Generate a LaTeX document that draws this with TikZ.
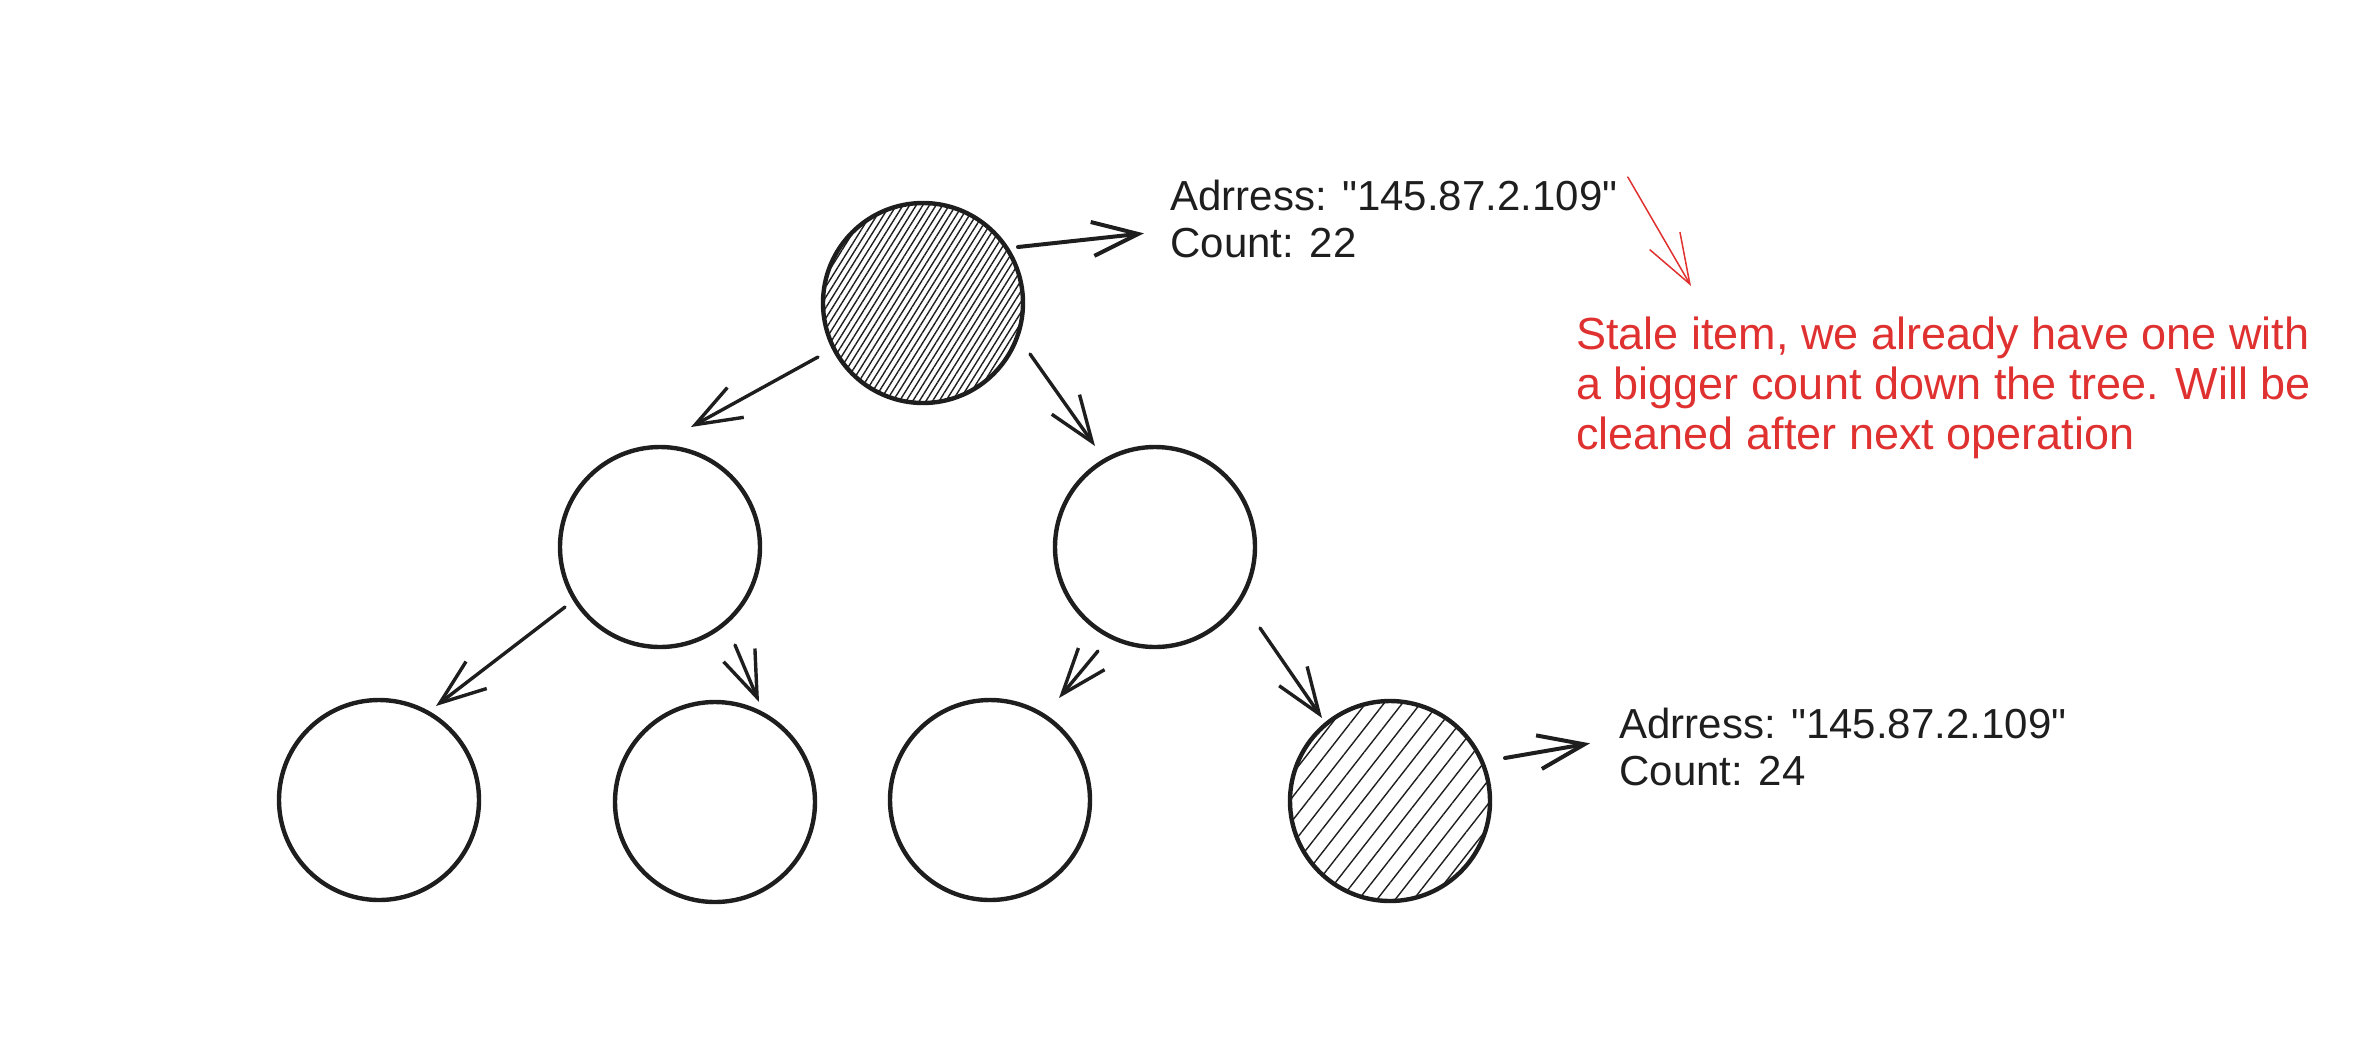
\documentclass[tikz,border=0pt]{standalone}
\usepackage{fontspec}
\setmainfont{Liberation Sans}
\usetikzlibrary{arrows.meta,patterns.meta}
\definecolor{ink}{HTML}{1E1E1E}
\definecolor{alert}{HTML}{E03131}
\newcommand{\ip}{\textquotedbl 145.87.2.109\textquotedbl}

\begin{document}
\begin{tikzpicture}[x=0.5bp,y=-0.5bp,line cap=round,line join=round,
  treenode/.style={circle,draw=ink,line width=2.2bp,minimum size=100bp,inner sep=0pt},
  stale/.style 2 args={pattern={Lines[angle=#1,distance=#2,line width=0.7bp]},pattern color=ink},
  link/.style={draw=ink,line width=1.7bp,-{Straight Barb[length=23bp,width=17bp]}},
  addr/.style={align=left,anchor=north west,inner sep=0pt,text=ink,
    font=\fontsize{21bp}{23.5bp}\selectfont},
  remark/.style={align=left,anchor=north west,inner sep=0pt,text=alert,
    font=\fontsize{22.5bp}{25bp}\selectfont}]
\useasboundingbox (0,0) rectangle (2362,1048);
% ---- heap nodes, root at top ----
\node[treenode,stale={58}{2.8bp}] (root) at (923,303) {};
\node[treenode] (lft) at (660,547) {};
\node[treenode] (rgt) at (1155,547) {};
\node[treenode] (ll) at (379,800) {};
\node[treenode] (lr) at (715,802) {};
\node[treenode] (rl) at (990,800) {};
\node[treenode,stale={52}{7.2bp}] (rr) at (1390,801) {};
% ---- child links (offsets from the node centres) ----
\draw[link] ([shift={(-105,54)}]root.center) -- ([shift={(31,-120)}]lft.center);
\draw[link] ([shift={(107,51)}]root.center) -- ([shift={(-60,-101)}]rgt.center);
\draw[link] ([shift={(-95,60)}]lft.center) -- ([shift={(57,-94)}]ll.center);
\draw[link] ([shift={(75,98)}]lft.center) -- ([shift={(44,-100)}]lr.center);
\draw[link] ([shift={(-57,104)}]rgt.center) -- ([shift={(69,-102)}]rl.center);
\draw[link] ([shift={(105,81)}]rgt.center) -- ([shift={(-68,-83)}]rr.center);
% ---- entries of the two hatched nodes ----
\node[addr] (addrA) at (1170,180) {Adrress: \ip\\Count: 22};
\node[addr] (addrB) at (1619,708) {Adrress: \ip\\Count: 24};
\draw[link,line width=2bp] ([shift={(95,-56)}]root.center) -- ([xshift=-13bp,yshift=-7bp]addrA.west);
\draw[link,line width=2bp] ([shift={(115,-43)}]rr.center) -- ([xshift=-14.5bp,yshift=2bp]addrB.west);
% ---- red remark ----
\node[remark] (note) at (1576,316)
  {Stale item, we already have one with\\a bigger count down the tree. Will be\\cleaned after next operation};
\draw[alert,line width=0.75bp,-{Straight Barb[length=25bp,width=17.5bp]}]
  ([xshift=5bp,yshift=1.5bp]addrA.north east) -- ([xshift=57.5bp,yshift=15bp]note.north west);
\end{tikzpicture}
\end{document}
